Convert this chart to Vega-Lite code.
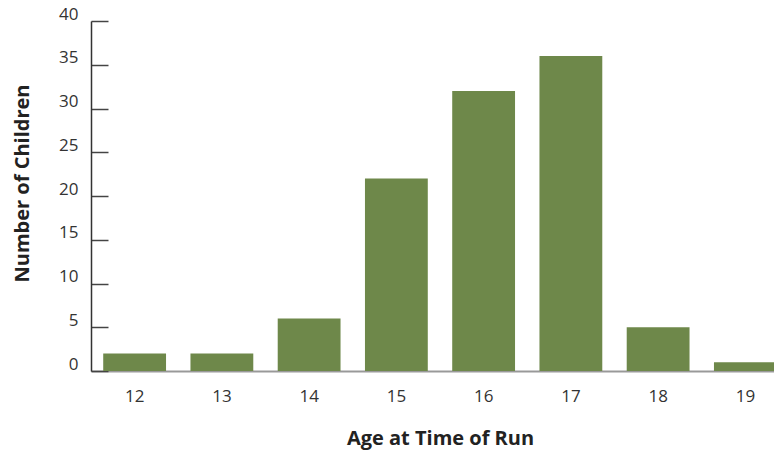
{
  "$schema": "https://vega.github.io/schema/vega-lite/v6.json",
  "autosize": "none",
  "width": 698,
  "height": 350,
  "padding": {"left": 91, "top": 21, "right": 0, "bottom": 83},
  "background": "white",
  "data": {"values": [
    {"age": "12", "count": 2},
    {"age": "13", "count": 2},
    {"age": "14", "count": 6},
    {"age": "15", "count": 22},
    {"age": "16", "count": 32},
    {"age": "17", "count": 36},
    {"age": "18", "count": 5},
    {"age": "19", "count": 1}
  ]},
  "config": {"view": {"stroke": null}},
  "mark": {"type": "bar", "color": "#6e884a"},
  "encoding": {
    "x": {
      "field": "age", "type": "ordinal",
      "scale": {"paddingInner": 0.28, "paddingOuter": 0.14},
      "axis": {
        "title": "Age at Time of Run",
        "labelAngle": 0,
        "ticks": false,
        "domainColor": "#999999",
        "domainWidth": 2,
        "labelFont": "Open Sans",
        "labelFontSize": 17,
        "labelColor": "#333333",
        "labelPadding": 17,
        "titleFont": "Open Sans",
        "titleFontWeight": "bold",
        "titleFontSize": 20,
        "titleColor": "#222222",
        "titlePadding": 24
      }
    },
    "y": {
      "field": "count", "type": "quantitative",
      "scale": {"domain": [0, 40]},
      "axis": {
        "title": "Number of Children",
        "values": [0, 5, 10, 15, 20, 25, 30, 35, 40],
        "grid": false,
        "tickSize": -17,
        "tickColor": "#444444",
        "tickWidth": 1.5,
        "domainColor": "#333333",
        "domainWidth": 1.5,
        "labelFont": "Open Sans",
        "labelFontSize": 17,
        "labelColor": "#333333",
        "labelBaseline": "alphabetic",
        "labelOffset": -2,
        "labelPadding": 30,
        "titleFont": "Open Sans",
        "titleFontWeight": "bold",
        "titleFontSize": 20,
        "titleColor": "#222222",
        "titleX": -69,
        "titleY": 162,
        "titleAlign": "center",
        "titleBaseline": "middle",
        "titleAngle": -90
      }
    }
  }
}
